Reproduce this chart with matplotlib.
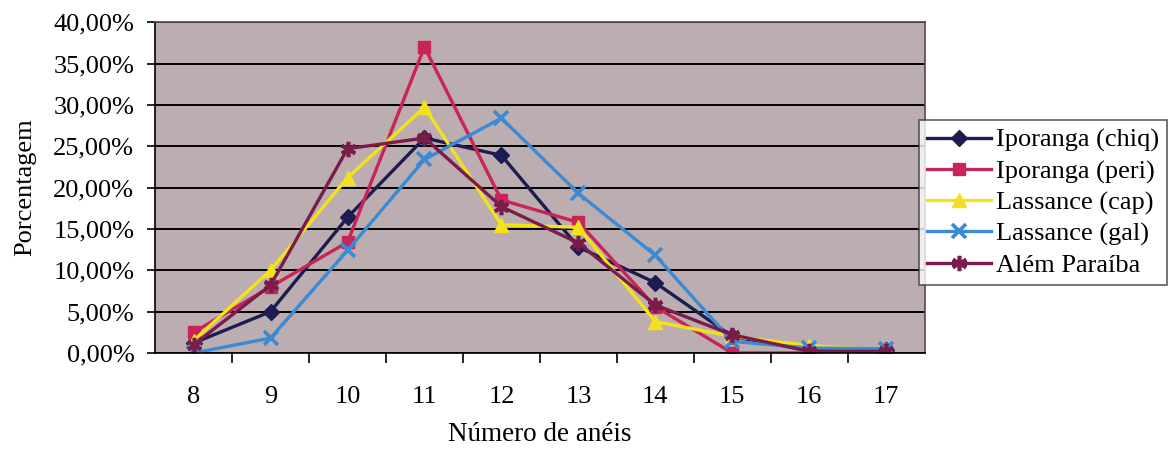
import matplotlib
matplotlib.use("Agg")
import matplotlib.pyplot as plt
from matplotlib.ticker import FuncFormatter, FixedLocator

plt.rcParams['font.family'] = ['Liberation Serif', 'DejaVu Serif']

# dados
aneis = [8, 9, 10, 11, 12, 13, 14, 15, 16, 17]
iporanga_chiq = [1.2, 5.0, 16.4, 26.0, 23.9, 12.8, 8.5, 2.0, 0.3, 0.3]
iporanga_peri = [2.5, 8.0, 13.4, 37.0, 18.5, 15.8, 5.6, 0.0, 0.0, 0.0]
lassance_cap = [1.5, 10.0, 21.2, 29.7, 15.5, 15.2, 3.8, 2.0, 0.9, 0.3]
lassance_gal = [0.0, 1.8, 12.4, 23.4, 28.4, 19.3, 11.8, 1.4, 0.6, 0.5]
alem_paraiba = [1.0, 8.2, 24.7, 26.0, 17.7, 13.3, 5.8, 2.2, 0.2, 0.2]

nomes = ['Iporanga (chiq)', 'Iporanga (peri)', 'Lassance (cap)',
         'Lassance (gal)', 'Além Paraíba']

fs = 19

fig = plt.figure(figsize=(11.75, 4.5), dpi=100)
ax = fig.add_axes([0.132, 0.2156, 0.655, 0.735])
ax.set_facecolor('#bcadb1')

x = list(range(len(aneis)))
ax.plot(x, iporanga_chiq, color='#1c1c52', marker='D', ms=8, lw=2.4, label=nomes[0])
ax.plot(x, iporanga_peri, color='#c92458', marker='s', ms=9, lw=2.4, label=nomes[1])
ax.plot(x, lassance_cap, color='#f2e21c', marker='^', ms=10, lw=2.4, label=nomes[2])
ax.plot(x, lassance_gal, color='#3a8ad6', marker='x', ms=10, mew=2.6, lw=2.4, label=nomes[3])
ax.plot(x, alem_paraiba, color='#7a1c4a', marker=(6, 2, 0), ms=11, mew=2.6, lw=2.4, label=nomes[4])

ax.set_xlim(-0.5, len(aneis) - 0.5)
ax.set_ylim(0, 40)
ax.set_yticks(range(0, 41, 5))
ax.yaxis.set_major_formatter(FuncFormatter(lambda v, p: ('%.2f%%' % v).replace('.', ',')))
ax.set_xticks(x)
ax.set_xticklabels([str(a) for a in aneis])
ax.xaxis.set_minor_locator(FixedLocator([i + 0.5 for i in x[:-1]]))
ax.tick_params(axis='x', which='major', length=0, pad=24, labelsize=fs)
ax.tick_params(axis='x', which='minor', length=7, direction='out', width=1.2)
ax.tick_params(axis='y', length=6, width=1.2, labelsize=fs, pad=9)
ax.grid(axis='y', color='black', lw=1.4)
ax.set_axisbelow(True)
for s in ax.spines.values():
    s.set_color('#5a4a50')
    s.set_linewidth(1.2)
ax.spines['left'].set_color('black')
ax.spines['bottom'].set_color('black')

ax.set_xlabel('Número de anéis', fontsize=19.5, labelpad=10)
ax.set_ylabel('Porcentagem', fontsize=fs, labelpad=12)

leg = ax.legend(loc='upper left', bbox_to_anchor=(0.993, 0.703), fontsize=fs,
                frameon=True, fancybox=False, edgecolor='#333333',
                handlelength=2.4, handletextpad=0.2, borderpad=0.3,
                labelspacing=0.28, borderaxespad=0)
leg.get_frame().set_linewidth(1.2)

fig.savefig('out.png', dpi=100)
